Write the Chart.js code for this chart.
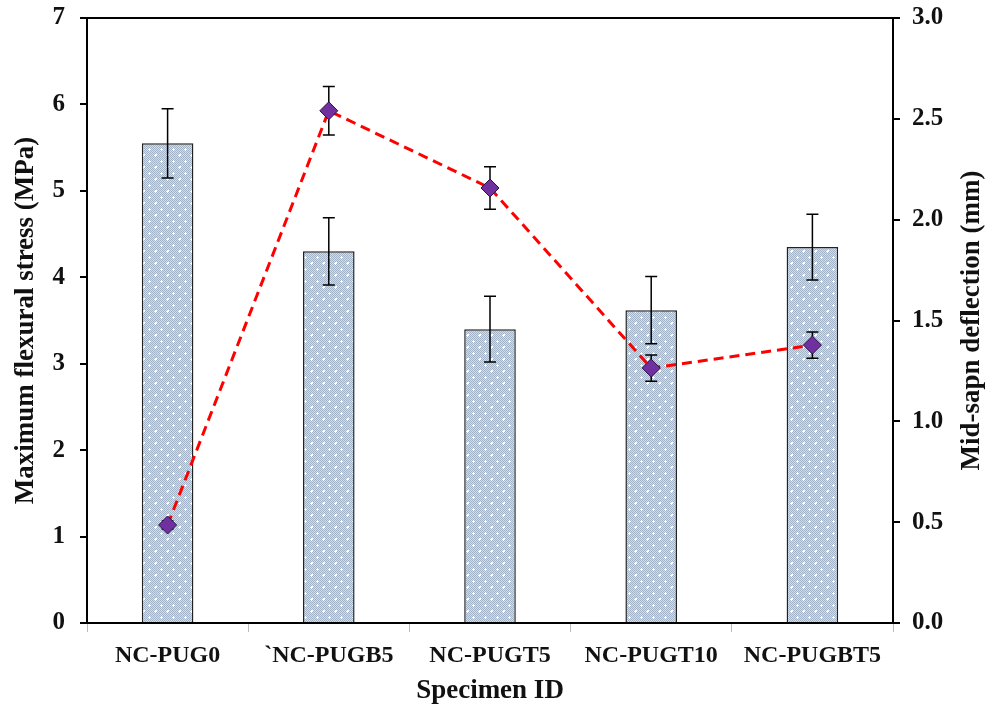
<!DOCTYPE html>
<html>
<head>
<meta charset="utf-8">
<script src="https://cdn.jsdelivr.net/npm/chart.js@4.4.0/dist/chart.umd.min.js"></script>
<style>
html,body{margin:0;padding:0;background:#fff;}
#wrap{width:998px;height:708px;}
</style>
</head>
<body>
<div id="wrap"><canvas id="c" width="998" height="708"></canvas></div>
<script>
const categories = ['NC-PUG0', '`NC-PUGB5', 'NC-PUGT5', 'NC-PUGT10', 'NC-PUGBT5'];
const stressValues = [5.55, 4.30, 3.40, 3.62, 4.35];
const stressErrors = [0.40, 0.39, 0.38, 0.39, 0.38];
const deflectionValues = [0.486, 2.54, 2.157, 1.264, 1.378];
const deflectionErrors = [0.02, 0.12, 0.105, 0.065, 0.065];
const leftTicks = [0, 1, 2, 3, 4, 5, 6, 7];
const rightTicks = [0.0, 0.5, 1.0, 1.5, 2.0, 2.5, 3.0];
const rightTitle = 'Mid-sapn deflection (mm)';

function makePattern() {
  const p = document.createElement('canvas');
  p.width = 12; p.height = 12;
  const g = p.getContext('2d');
  g.fillStyle = '#d3dce9';
  g.fillRect(0, 0, 12, 12);
  g.fillStyle = '#a3b4c9';
  for (let y = 0; y < 12; y++) {
    for (let x = 0; x < 12; x++) {
      if ((x + y) % 2 === 0) g.fillRect(x, y, 1, 1);
    }
  }
  g.fillStyle = '#ffffff';
  g.fillRect(5, 4, 1, 3);
  g.fillRect(4, 5, 3, 1);
  g.fillRect(11, 10, 1, 3);
  g.fillRect(10, 11, 3, 1);
  g.fillRect(0, 10, 1, 3);
  g.fillRect(11, 0, 1, 1);
  g.fillRect(0, 11, 1, 1);
  return document.getElementById('c').getContext('2d').createPattern(p, 'repeat');
}

const serif = "'Liberation Serif', 'Times New Roman', serif";

function drawErr(ctx, x, yt, yb) {
  ctx.beginPath();
  ctx.moveTo(x, yt); ctx.lineTo(x, yb);
  ctx.moveTo(x - 6, yt); ctx.lineTo(x + 6, yt);
  ctx.moveTo(x - 6, yb); ctx.lineTo(x + 6, yb);
  ctx.stroke();
}

const errorPlugin = {
  id: 'errs',
  afterDatasetDraw(chart, args) {
    if (args.index !== 0) return;
    const ctx = chart.ctx;
    const meta = chart.getDatasetMeta(0);
    const ys = chart.scales.y;
    ctx.save();
    ctx.strokeStyle = '#000';
    ctx.lineWidth = 1.5;
    meta.data.forEach((el, i) => {
      drawErr(ctx, el.x,
        ys.getPixelForValue(stressValues[i] + stressErrors[i]),
        ys.getPixelForValue(stressValues[i] - stressErrors[i]));
    });
    ctx.restore();
  },
  beforeDatasetDraw(chart, args) {
    if (args.index !== 1) return;
    const ctx = chart.ctx;
    const meta = chart.getDatasetMeta(1);
    const ys = chart.scales.y1;
    ctx.save();
    ctx.strokeStyle = '#000';
    ctx.lineWidth = 1.5;
    meta.data.forEach((el, i) => {
      drawErr(ctx, el.x,
        ys.getPixelForValue(deflectionValues[i] + deflectionErrors[i]),
        ys.getPixelForValue(deflectionValues[i] - deflectionErrors[i]));
    });
    ctx.restore();
  },
  afterDraw(chart) {
    const a = chart.chartArea;
    const ctx = chart.ctx;
    ctx.save();
    ctx.strokeStyle = '#000';
    ctx.lineWidth = 2;
    ctx.beginPath();
    ctx.moveTo(a.left - 1, a.top);
    ctx.lineTo(a.right + 1, a.top);
    ctx.stroke();
    // right axis title, reading bottom-to-top
    const s = chart.scales.y1;
    ctx.translate(s.right - 26, (a.top + a.bottom) / 2);
    ctx.rotate(-Math.PI / 2);
    ctx.fillStyle = '#111';
    ctx.font = 'bold 27px ' + serif;
    ctx.textAlign = 'center';
    ctx.textBaseline = 'middle';
    ctx.fillText(rightTitle, 0, 0);
    ctx.restore();
  }
};

function fitV(width) {
  return function (s) {
    s.width = width;
    s.paddingTop = 0;
    s.paddingBottom = 0;
  };
}

new Chart(document.getElementById('c'), {
  data: {
    labels: categories,
    datasets: [
      {
        type: 'bar',
        data: stressValues,
        yAxisID: 'y',
        backgroundColor: makePattern(),
        borderColor: '#222',
        borderWidth: 1.5,
        barPercentage: 0.32,
        categoryPercentage: 1.0,
        order: 2
      },
      {
        type: 'line',
        data: deflectionValues,
        yAxisID: 'y1',
        borderColor: '#ff0000',
        borderWidth: 3,
        borderDash: [10, 6],
        pointStyle: 'rectRot',
        pointRadius: 9,
        pointBackgroundColor: '#7030a0',
        pointBorderColor: '#2a1040',
        pointBorderWidth: 1,
        tension: 0,
        order: 1
      }
    ]
  },
  options: {
    responsive: false,
    animation: false,
    layout: { padding: { top: 18, left: 0, right: 0, bottom: 0 } },
    plugins: { legend: { display: false }, tooltip: { enabled: false } },
    scales: {
      x: {
        offset: true,
        grid: { display: true, offset: true, drawOnChartArea: false, drawTicks: true, tickLength: 9, color: '#bbbbbb', lineWidth: 1 },
        border: { display: true, color: '#000', width: 2 },
        ticks: { color: '#111', font: { family: serif, size: 24, weight: 'bold' }, padding: 9, maxRotation: 0, autoSkip: false },
        title: { display: true, text: 'Specimen ID', color: '#111', font: { family: serif, size: 27, weight: 'bold' }, padding: { top: 2, bottom: 1 } },
        afterFit(s) { s.height = 85; s.paddingLeft = 0; s.paddingRight = 0; }
      },
      y: {
        position: 'left',
        min: 0, max: 7,
        afterBuildTicks(s) { s.ticks = leftTicks.map(v => ({ value: v })); },
        grid: { drawOnChartArea: false, drawTicks: true, tickLength: 7, color: '#000', lineWidth: 2 },
        border: { display: true, color: '#000', width: 2 },
        ticks: { color: '#111', font: { family: serif, size: 25, weight: 'bold' }, padding: 15 },
        title: { display: true, text: 'Maximum flexural stress (MPa)', color: '#111', font: { family: serif, size: 27, weight: 'bold' }, padding: { top: 10, bottom: 0 } },
        afterFit: fitV(87)
      },
      y1: {
        position: 'right',
        min: 0, max: 3,
        afterBuildTicks(s) { s.ticks = rightTicks.map(v => ({ value: v })); },
        grid: { drawOnChartArea: false, drawTicks: true, tickLength: 7, color: '#000', lineWidth: 2 },
        border: { display: true, color: '#000', width: 2 },
        ticks: { color: '#111', font: { family: serif, size: 25, weight: 'bold' }, padding: 12, callback: v => Number(v).toFixed(1) },
        title: { display: false },
        afterFit: fitV(105)
      }
    }
  },
  plugins: [errorPlugin]
});
</script>
</body>
</html>
